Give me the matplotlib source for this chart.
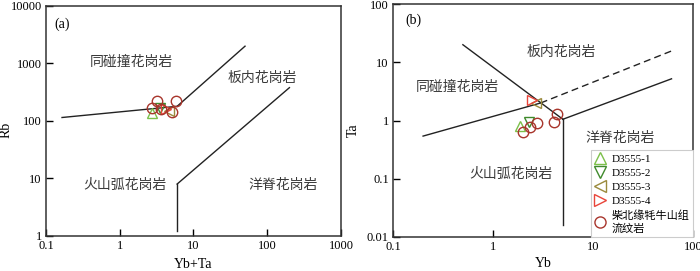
import matplotlib

matplotlib.use("Agg")
import matplotlib.pyplot as plt
from matplotlib.lines import Line2D

plt.rcParams["font.family"] = ["Liberation Serif", "Noto Sans CJK SC", "DejaVu Sans"]

# sample series (labels / colours / markers)
series_labels = ["D3555-1", "D3555-2", "D3555-3", "D3555-4", "柴北缘牦牛山组\n流纹岩"]
series_markers = ["^", "v", "<", ">", "o"]
series_colors = ["#7cc04a", "#3f8a2c", "#9a8a3c", "#e8453a", "#a8352c"]

# (a) Rb vs Yb+Ta
a_tri_x = [2.7, 3.5, 4.6, 4.3]
a_tri_y = [140, 168, 150, 163]
a_circ_x = [2.71, 3.17, 3.62, 5.79, 5.06]
a_circ_y = [170, 222, 159, 222, 145]

# (b) Ta vs Yb
b_tri_x = [1.86, 2.31, 2.67, 2.45]
b_tri_y = [0.80, 0.95, 2.02, 2.24]
b_circ_x = [1.98, 2.34, 2.73, 4.07, 4.40]
b_circ_y = [0.64, 0.78, 0.90, 0.93, 1.28]

# discrimination boundaries (Pearce et al., 1984)
a_lines = [
    ([0.165, 6], [115, 180]),
    ([6, 50], [180, 2000]),
    ([6, 200], [8, 380]),
    ([6, 6], [8, 1.2]),
]
b_lines = [
    ([0.5, 5], [20, 1.05]),
    ([0.2, 3], [0.54, 2.0]),
    ([5, 61], [1.05, 5.2]),
    ([5, 5], [1.05, 0.016]),
]
b_dashed = ([3, 62], [2.0, 15.8])

a_labels = [("同碰撞花岗岩", 1.42, 1050), ("板内花岗岩", 85, 550),
            ("火山弧花岗岩", 1.18, 7.8), ("洋脊花岗岩", 163, 7.8)]
b_labels = [("板内花岗岩", 4.76, 15.2), ("同碰撞花岗岩", 0.44, 3.7),
            ("洋脊花岗岩", 18.6, 0.51), ("火山弧花岗岩", 1.51, 0.12)]


def style_axis(ax, xlim, ylim, xticks, yticks):
    ax.set_xscale("log")
    ax.set_yscale("log")
    ax.set_xlim(*xlim)
    ax.set_ylim(*ylim)
    ax.set_xticks(xticks)
    ax.set_xticklabels([f"{t:g}" for t in xticks])
    ax.set_yticks(yticks)
    ax.set_yticklabels([f"{t:g}" for t in yticks])
    ax.minorticks_off()
    ax.tick_params(direction="in", length=5, width=1, labelsize=9, pad=3)
    for s in ax.spines.values():
        s.set_linewidth(1.1)
        s.set_color("#333333")


def draw_points(ax, tri_x, tri_y, circ_x, circ_y):
    for i in range(4):
        ax.plot(tri_x[i], tri_y[i], marker=series_markers[i], ms=7, mfc="none",
                mec=series_colors[i], mew=1.0, ls="none", zorder=5)
    ax.plot(circ_x, circ_y, marker="o", ms=7.5, mfc="none", mec=series_colors[4],
            mew=1.0, ls="none", zorder=6)


fig = plt.figure(figsize=(7, 2.71), dpi=100)

ax1 = fig.add_axes([0.0657, 0.1292, 0.4214, 0.8487])
style_axis(ax1, (0.1, 1000), (1, 10000), [0.1, 1, 10, 100, 1000], [1, 10, 100, 1000, 10000])
for xs, ys in a_lines:
    ax1.plot(xs, ys, color="#222222", lw=1.0)
draw_points(ax1, a_tri_x, a_tri_y, a_circ_x, a_circ_y)
for txt, x, y in a_labels:
    ax1.text(x, y, txt, ha="center", va="center", fontsize=10, color="#3a3a3a",
             family=["Noto Sans CJK SC"])
ax1.text(0.03, 0.95, "(a)", transform=ax1.transAxes, fontsize=10, va="top")
ax1.set_xlabel("Yb+Ta", fontsize=10, labelpad=4)
ax1.set_ylabel("Rb", fontsize=10)
ax1.yaxis.set_label_coords(-0.115, 0.46)

ax2 = fig.add_axes([0.5614, 0.1255, 0.4286, 0.8597])
style_axis(ax2, (0.1, 100), (0.01, 100), [0.1, 1, 10, 100], [0.01, 0.1, 1, 10, 100])
for xs, ys in b_lines:
    ax2.plot(xs, ys, color="#222222", lw=1.0)
ax2.plot(*b_dashed, color="#222222", lw=1.0, ls=(0, (5, 3)))
draw_points(ax2, b_tri_x, b_tri_y, b_circ_x, b_circ_y)
for txt, x, y in b_labels:
    ax2.text(x, y, txt, ha="center", va="center", fontsize=10, color="#3a3a3a",
             family=["Noto Sans CJK SC"])
ax2.text(0.04, 0.96, "(b)", transform=ax2.transAxes, fontsize=10, va="top")
ax2.set_xlabel("Yb", fontsize=10, labelpad=3)
ax2.set_ylabel("Ta", fontsize=10)
ax2.yaxis.set_label_coords(-0.11, 0.46)

handles = [Line2D([], [], marker=m, ms=8, mfc="none", mec=c, mew=1.0, ls="none")
           for m, c in zip(series_markers, series_colors)]
leg = ax2.legend(handles, series_labels, loc="lower right", borderaxespad=0,
                 fancybox=False, framealpha=1, edgecolor="#cccccc",
                 prop={"family": ["Liberation Serif", "Noto Sans CJK SC"], "size": 8},
                 handlelength=1.0, handletextpad=0.6, labelspacing=0.4,
                 borderpad=0.3)
leg.get_frame().set_linewidth(0.8)

fig.savefig("out.png", dpi=100, facecolor="white")
